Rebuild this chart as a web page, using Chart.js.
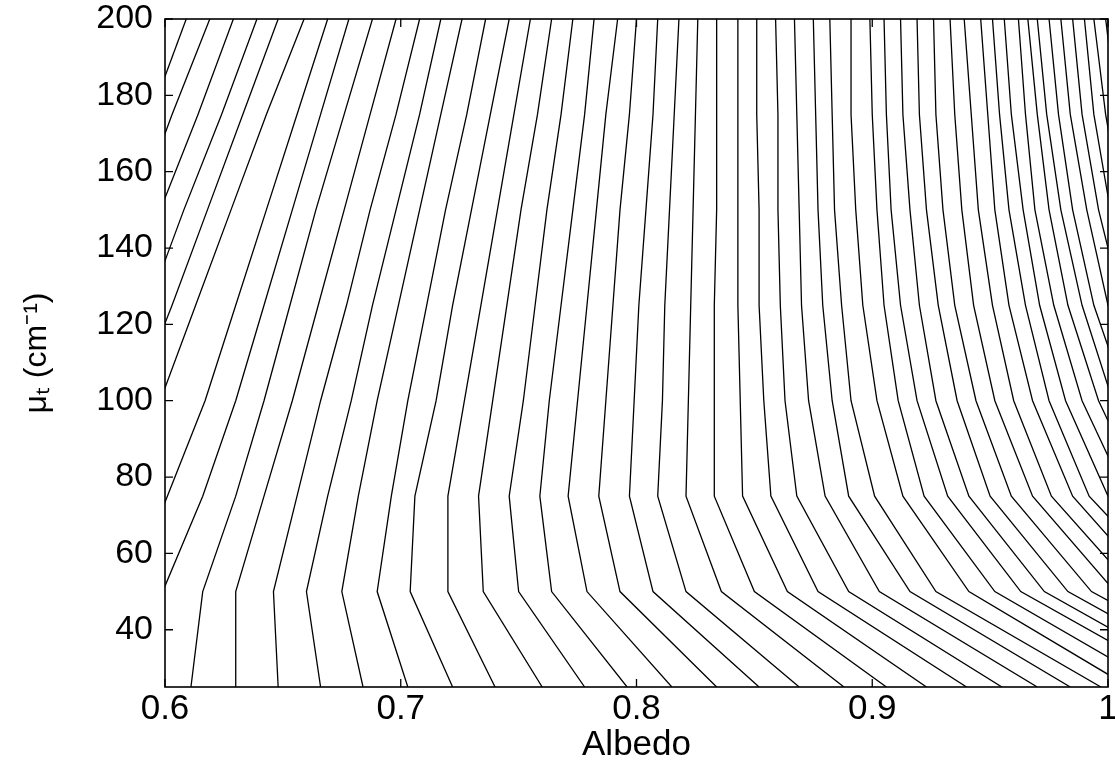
<!DOCTYPE html>
<html>
<head>
<meta charset="utf-8">
<script src="https://cdn.jsdelivr.net/npm/chart.js@4.4.1/dist/chart.umd.min.js"></script>
<style>
    html, body { margin: 0; padding: 0; background: #fff; }
    #wrap { width: 1115px; height: 768px; }
</style>
</head>
<body>
<div id="wrap"><canvas id="albedo-contours"></canvas></div>
<script>
// mu_t rows of the contour grid (cm-1)
const muLevels = [25, 50, 75, 100, 125, 150, 175, 200];

const xTicks = [0.6, 0.7, 0.8, 0.9, 1.0];
const yTicks = [40, 60, 80, 100, 120, 140, 160, 180, 200];

// albedo where each contour line crosses a given mu_t row (null = line not there)
const albedoMu25 = [
    null, null, null, null, null, null, null, 0.591, 0.611, 0.630,
    0.648, 0.666, 0.684, 0.703, 0.722, 0.740, 0.760, 0.778, 0.796, 0.815,
    0.834, 0.852, 0.869, 0.888, 0.906, 0.923, 0.940, 0.955, 0.970, 0.984,
    0.997, 1.009, 1.022, 1.035, 1.045, 1.056, 1.067, null, null, null,
    null, null, null, null, null, null, null, null, null, null,
    null
];
const albedoMu50 = [
    null, null, null, null, null, null, 0.585, 0.599, 0.616, 0.630,
    0.646, 0.660, 0.675, 0.690, 0.704, 0.720, 0.735, 0.750, 0.764, 0.779,
    0.793, 0.807, 0.821, 0.836, 0.850, 0.864, 0.877, 0.890, 0.903, 0.916,
    0.927, 0.941, 0.952, 0.963, 0.973, 0.983, 0.993, 1.003, 1.012, 1.021,
    1.030, 1.038, null, null, null, null, null, null, null, null,
    null
];
const albedoMu75 = [
    null, null, null, null, null, null, 0.601, 0.616, 0.630, 0.642,
    0.656, 0.669, 0.682, 0.696, 0.706, 0.720, 0.733, 0.746, 0.759, 0.771,
    0.784, 0.797, 0.809, 0.821, 0.833, 0.845, 0.857, 0.868, 0.880, 0.890,
    0.901, 0.913, 0.922, 0.932, 0.941, 0.950, 0.959, 0.968, 0.976, 0.985,
    0.992, 1.000, 1.008, 1.015, null, null, null, null, null, null,
    null
];
const albedoMu100 = [
    null, null, null, null, 0.587, 0.598, 0.617, 0.630, 0.642, 0.654,
    0.666, 0.679, 0.690, 0.703, 0.715, 0.727, 0.739, 0.752, 0.763, 0.775,
    0.787, 0.799, 0.811, 0.822, 0.833, 0.844, 0.854, 0.863, 0.873, 0.883,
    0.891, 0.902, 0.911, 0.919, 0.927, 0.936, 0.944, 0.952, 0.960, 0.968,
    0.975, 0.982, 0.989, 0.996, 1.002, 1.008, 1.015, null, null, null,
    null
];
const albedoMu125 = [
    null, null, 0.583, 0.593, 0.603, 0.613, 0.630, 0.642, 0.653, 0.665,
    0.677, 0.688, 0.699, 0.711, 0.722, 0.734, 0.745, 0.757, 0.768, 0.779,
    0.790, 0.801, 0.812, 0.823, 0.833, 0.843, 0.852, 0.861, 0.870, 0.879,
    0.887, 0.896, 0.905, 0.912, 0.920, 0.928, 0.935, 0.943, 0.951, 0.958,
    0.965, 0.971, 0.977, 0.983, 0.989, 0.994, 1.000, 1.006, 1.012, null,
    null
];
const albedoMu150 = [
    null, 0.588, 0.598, 0.608, 0.618, 0.628, 0.643, 0.654, 0.664, 0.676,
    0.687, 0.698, 0.708, 0.719, 0.730, 0.741, 0.751, 0.762, 0.773, 0.783,
    0.793, 0.804, 0.814, 0.824, 0.834, 0.843, 0.852, 0.860, 0.869, 0.877,
    0.884, 0.893, 0.902, 0.908, 0.916, 0.923, 0.930, 0.938, 0.945, 0.952,
    0.958, 0.964, 0.969, 0.975, 0.980, 0.985, 0.991, 0.996, 1.001, 1.006,
    null
];
const albedoMu175 = [
    0.594, 0.603, 0.614, 0.624, 0.633, 0.643, 0.656, 0.666, 0.676, 0.687,
    0.698, 0.708, 0.717, 0.728, 0.738, 0.748, 0.758, 0.768, 0.778, 0.787,
    0.797, 0.807, 0.816, 0.825, 0.834, 0.843, 0.851, 0.860, 0.868, 0.876,
    0.883, 0.891, 0.900, 0.906, 0.913, 0.920, 0.927, 0.935, 0.942, 0.949,
    0.954, 0.959, 0.965, 0.970, 0.974, 0.979, 0.984, 0.989, 0.994, 0.999,
    1.004
];
const albedoMu200 = [
    0.609, 0.619, 0.629, 0.639, 0.648, 0.659, 0.669, 0.678, 0.688, 0.698,
    0.708, 0.717, 0.726, 0.736, 0.746, 0.755, 0.764, 0.773, 0.782, 0.792,
    0.800, 0.809, 0.818, 0.826, 0.834, 0.843, 0.851, 0.859, 0.867, 0.875,
    0.882, 0.891, 0.899, 0.905, 0.912, 0.919, 0.926, 0.933, 0.939, 0.946,
    0.951, 0.956, 0.962, 0.966, 0.970, 0.975, 0.980, 0.985, 0.990, 0.994,
    0.999
];

const albedoRows = [albedoMu25, albedoMu50, albedoMu75, albedoMu100,
                    albedoMu125, albedoMu150, albedoMu175, albedoMu200];

const FONT = "'Liberation Sans', Arial, Helvetica, sans-serif";

// une série par ligne de contour
const datasets = albedoMu200.map((_, i) => ({
    data: muLevels
        .map((mu, k) => ({ x: albedoRows[k][i], y: mu }))
        .filter(p => p.x !== null),
    showLine: true,
    borderColor: "#000",
    borderWidth: 1.3,
    pointRadius: 0,
    tension: 0,
}));

// cadre et graduations vers l'intérieur, façon Matlab
const framePlugin = {
    id: "frame",
    afterDatasetsDraw(chart) {
        const { ctx, chartArea: a, scales } = chart;
        const len = 8;
        ctx.save();
        ctx.strokeStyle = "#000";
        ctx.lineWidth = 1.6;
        ctx.strokeRect(a.left, a.top, a.right - a.left, a.bottom - a.top);
        ctx.lineWidth = 1.3;
        ctx.beginPath();
        xTicks.forEach(v => {
            const px = scales.x.getPixelForValue(v);
            ctx.moveTo(px, a.bottom); ctx.lineTo(px, a.bottom - len);
            ctx.moveTo(px, a.top); ctx.lineTo(px, a.top + len);
        });
        yTicks.forEach(v => {
            const py = scales.y.getPixelForValue(v);
            ctx.moveTo(a.left, py); ctx.lineTo(a.left + len, py);
            ctx.moveTo(a.right, py); ctx.lineTo(a.right - len, py);
        });
        ctx.stroke();
        ctx.restore();
    },
};

document.addEventListener("DOMContentLoaded", () => {
    const ctx = document.getElementById("albedo-contours").getContext("2d");
    new Chart(ctx, {
        type: "scatter",
        data: { datasets },
        plugins: [framePlugin],
        options: {
            responsive: true,
            maintainAspectRatio: false,
            animation: false,
            layout: { padding: { top: 19, right: 7, left: 0, bottom: 0 } },
            plugins: {
                legend: { display: false },
                tooltip: { enabled: false },
            },
            scales: {
                x: {
                    type: "linear",
                    min: 0.6,
                    max: 1.0,
                    grid: { display: false, drawTicks: false },
                    border: { display: false },
                    afterBuildTicks: s => { s.ticks = xTicks.map(v => ({ value: v })); },
                    afterFit: s => { s.height = 81; s.paddingLeft = 0; s.paddingRight = 0; },
                    ticks: {
                        color: "#000",
                        font: { family: FONT, size: 35 },
                        padding: 1,
                        maxRotation: 0,
                        callback: v => (v === 1 ? "1" : v.toFixed(1)),
                    },
                    title: {
                        display: true,
                        text: "Albedo",
                        color: "#000",
                        font: { family: FONT, size: 35 },
                        padding: { top: 0, bottom: 2 },
                    },
                },
                y: {
                    type: "linear",
                    min: 25,
                    max: 200,
                    grid: { display: false, drawTicks: false },
                    border: { display: false },
                    afterBuildTicks: s => { s.ticks = yTicks.map(v => ({ value: v })); },
                    afterFit: s => { s.width = 165; s.paddingTop = 0; s.paddingBottom = 0; },
                    ticks: {
                        color: "#000",
                        font: { family: FONT, size: 34 },
                        padding: 12,
                    },
                    title: {
                        display: true,
                        text: "μₜ (cm⁻¹)",
                        color: "#000",
                        font: { family: FONT, size: 32 },
                        padding: { top: 18, bottom: 0 },
                    },
                },
            },
        },
    });
});
</script>
</body>
</html>
